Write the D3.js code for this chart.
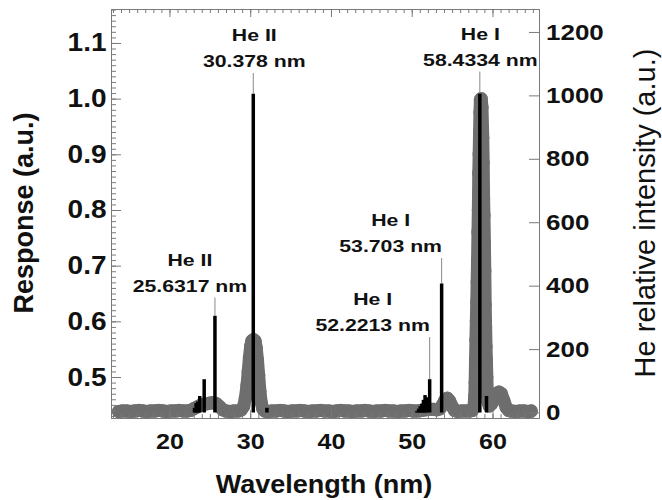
<!DOCTYPE html>
<html>
<head>
<meta charset="utf-8">
<script src="https://cdn.jsdelivr.net/npm/d3@7"></script>
<style>
    body { margin: 0; background: #fff; }
    svg { display: block; }
</style>
</head>
<body>
<script>

// measured response, left axis (a.u.)
const wavelengths = [
    13.7, 14.2, 14.7, 15.2, 15.7, 16.2, 16.7, 17.2, 17.7, 18.2, 18.7, 19.2, 19.7, 20.2, 20.7, 21.2, 21.7, 22.2,
    22.6, 23.0, 23.4, 23.8, 24.2, 24.6, 25.0, 25.4, 25.8, 26.2, 26.6, 27.0, 27.5, 28.0, 28.5,
    28.9, 29.2, 29.4, 29.6, 29.75, 29.9, 30.05, 30.2, 30.4, 30.6, 30.75, 30.9, 31.05, 31.2, 31.35, 31.55, 31.8,
    32.2, 32.7, 33.2, 33.7, 34.2, 34.7, 35.2, 35.7, 36.2, 36.7, 37.2, 37.7, 38.2, 38.7, 39.2, 39.7, 40.2, 40.7, 41.2,
    41.7, 42.2, 42.7, 43.2, 43.7, 44.2, 44.7, 45.2, 45.7, 46.2, 46.7, 47.2, 47.7, 48.2, 48.7, 49.2, 49.7, 50.2, 50.7,
    51.2, 51.7, 52.2, 52.7, 53.1, 53.5, 53.8, 54.1, 54.4, 54.7, 55.0, 55.3, 55.7, 56.2, 56.7, 57.2, 57.5,
    57.7, 57.8, 57.85, 57.9, 57.95, 58.0, 58.05, 58.1, 58.15, 58.2, 58.25, 58.3, 58.35, 58.4, 58.45, 58.5, 58.6,
    58.7, 58.8, 58.85, 58.9, 58.95, 59.0, 59.05, 59.1, 59.15, 59.2, 59.25, 59.3, 59.35, 59.45, 59.6,
    59.9, 60.2, 60.5, 60.8, 61.1, 61.4, 61.7, 62.0, 62.4, 62.9, 63.4, 63.9, 64.4, 64.8
];
const response = [
    0.438, 0.439, 0.439, 0.438, 0.439, 0.440, 0.439, 0.438, 0.439, 0.439, 0.440, 0.439, 0.438, 0.439, 0.439, 0.440, 0.439, 0.439,
    0.440, 0.443, 0.446, 0.449, 0.451, 0.452, 0.453, 0.454, 0.452, 0.447, 0.441, 0.439, 0.438, 0.439, 0.439,
    0.441, 0.448, 0.462, 0.485, 0.510, 0.535, 0.555, 0.565, 0.567, 0.565, 0.552, 0.530, 0.503, 0.475, 0.455, 0.443, 0.439,
    0.438, 0.439, 0.439, 0.440, 0.439, 0.438, 0.439, 0.439, 0.440, 0.439, 0.438, 0.439, 0.439, 0.440, 0.439, 0.439, 0.438, 0.439, 0.440,
    0.439, 0.439, 0.438, 0.439, 0.439, 0.440, 0.439, 0.438, 0.439, 0.439, 0.440, 0.439, 0.439, 0.438, 0.439, 0.439, 0.440, 0.439, 0.439,
    0.440, 0.441, 0.442, 0.442, 0.441, 0.443, 0.450, 0.458, 0.462, 0.457, 0.447, 0.440, 0.438, 0.439, 0.439, 0.439, 0.440,
    0.446, 0.465, 0.490, 0.530, 0.567, 0.600, 0.635, 0.670, 0.710, 0.760, 0.800, 0.866, 0.900, 0.940, 0.975, 0.998, 1.000,
    0.985, 0.930, 0.885, 0.820, 0.790, 0.740, 0.690, 0.630, 0.590, 0.555, 0.530, 0.500, 0.475, 0.455, 0.448,
    0.452, 0.462, 0.470, 0.473, 0.470, 0.458, 0.445, 0.440, 0.439, 0.438, 0.439, 0.439, 0.438, 0.439
];

// He emission lines, right axis (relative intensity)
const lineWavelengths = [23.1, 23.3, 23.5, 23.75, 24.3, 25.6317, 30.378, 32.07, 50.65, 50.85, 51.05, 51.25, 51.45, 51.65, 51.85, 52.2213, 53.703, 58.4334, 59.26];
const lineIntensity = [15, 30, 35, 52, 105, 305, 1005, 15, 5, 12, 20, 28, 40, 55, 48, 105, 407, 1005, 52];

// annotated lines
const labelWavelengths = [25.6317, 30.378, 52.2213, 53.703, 58.4334];
const labelIons = ['He II', 'He II', 'He I', 'He I', 'He I'];

const leftTicks = [0.5, 0.6, 0.7, 0.8, 0.9, 1.0, 1.1];
const rightTicks = [0, 200, 400, 600, 800, 1000, 1200];
const xTicks = [20, 30, 40, 50, 60];

// layout
const SCREEN = { width: 662, height: 500, left: 111, right: 539, top: 9, bottom: 418 };
const FONT = '"Liberation Sans", Arial, Helvetica, sans-serif';
const AXIS_GRAY = '#7a7a7a';
const CURVE_GRAY = '#6e6e6e';

// label placement in px: shift from the line, baseline of the "nm" row
const labelLayout = [
    { dx: -25, y: 291.5 },
    { dx: 1, y: 67 },
    { dx: -57, y: 331 },
    { dx: -51, y: 252 },
    { dx: 0.5, y: 65.5 }
];

const svg = d3.select('body').append('svg')
    .attr('width', SCREEN.width)
    .attr('height', SCREEN.height)
    .style('background', '#fff');

const x = d3.scaleLinear().domain([12.76, 65.76]).range([SCREEN.left, SCREEN.right]);
const yLeft = d3.scaleLinear().domain([0.4264, 1.161]).range([SCREEN.bottom, SCREEN.top]);
const yRight = d3.scaleLinear().domain([-17.3, 1272.4]).range([SCREEN.bottom, SCREEN.top]);

svg.append('clipPath').attr('id', 'plot-clip')
    .append('rect')
    .attr('x', SCREEN.left)
    .attr('y', SCREEN.top)
    .attr('width', SCREEN.right - SCREEN.left)
    .attr('height', SCREEN.bottom - SCREEN.top);

const plot = svg.append('g').attr('clip-path', 'url(#plot-clip)');

const points = wavelengths.map((w, i) => ({ w: w, r: response[i] }));

// response curve: thick band + open circle markers
plot.append('path')
    .datum(points)
    .attr('d', d3.line().x(d => x(d.w)).y(d => yLeft(d.r)))
    .attr('fill', 'none')
    .attr('stroke', CURVE_GRAY)
    .attr('stroke-width', 13)
    .attr('stroke-linejoin', 'round')
    .attr('stroke-linecap', 'round');

plot.append('g')
    .selectAll('circle')
    .data(points)
    .join('circle')
    .attr('cx', d => x(d.w))
    .attr('cy', d => yLeft(d.r))
    .attr('r', 5.3)
    .attr('fill', 'none')
    .attr('stroke', CURVE_GRAY)
    .attr('stroke-width', 2.7);

// leader lines from labels down to the line tops
labelWavelengths.forEach((w, i) => {
    const top = lineIntensity[lineWavelengths.indexOf(w)];
    plot.append('line')
        .attr('x1', x(w)).attr('x2', x(w))
        .attr('y1', labelLayout[i].y + 6)
        .attr('y2', yRight(top))
        .attr('stroke', '#8a8a8a')
        .attr('stroke-width', 1);
});

// emission lines
plot.append('g')
    .selectAll('line')
    .data(lineWavelengths)
    .join('line')
    .attr('x1', d => x(d))
    .attr('x2', d => x(d))
    .attr('y1', yRight(0))
    .attr('y2', (d, i) => yRight(lineIntensity[i]))
    .attr('stroke', '#000')
    .attr('stroke-width', 3.5);

// axes
function styleAxis(g, size, sx) {
    g.attr('font-family', FONT).attr('font-size', size).attr('font-weight', 'bold');
    g.select('.domain').attr('stroke', AXIS_GRAY);
    g.selectAll('.tick line').attr('stroke', AXIS_GRAY);
    g.selectAll('.tick text').attr('fill', '#111').attr('transform', `scale(${sx},1)`);
}

const intRange = d3.range(13, 66);
const leftMinor = d3.range(43, 117).map(d => d / 100);

svg.append('g')
    .attr('transform', `translate(0,${SCREEN.top})`)
    .call(d3.axisTop(x).tickValues(intRange).tickSize(-4).tickSizeOuter(0).tickFormat(''))
    .call(g => styleAxis(g, 10, 1));
svg.append('g')
    .attr('transform', `translate(0,${SCREEN.top})`)
    .call(d3.axisTop(x).tickValues(xTicks).tickSize(-8).tickSizeOuter(0).tickFormat(''))
    .call(g => styleAxis(g, 10, 1));

svg.append('g')
    .attr('transform', `translate(0,${SCREEN.bottom})`)
    .call(d3.axisBottom(x).tickValues(intRange).tickSize(-4).tickSizeOuter(0).tickFormat(''))
    .call(g => styleAxis(g, 10, 1));
svg.append('g')
    .attr('transform', `translate(0,${SCREEN.bottom})`)
    .call(d3.axisBottom(x).tickValues(xTicks).tickSize(-8).tickSizeOuter(0).tickPadding(15))
    .call(g => styleAxis(g, 22, 1.14));

svg.append('g')
    .attr('transform', `translate(${SCREEN.left},0)`)
    .call(d3.axisLeft(yLeft).tickValues(leftMinor).tickSize(-5).tickSizeOuter(0).tickFormat(''))
    .call(g => styleAxis(g, 10, 1));
svg.append('g')
    .attr('transform', `translate(${SCREEN.left},0)`)
    .call(d3.axisLeft(yLeft).tickValues(leftTicks).tickSize(-10).tickSizeOuter(0).tickPadding(4).tickFormat(d3.format('.1f')))
    .call(g => styleAxis(g, 25, 1.12));

svg.append('g')
    .attr('transform', `translate(${SCREEN.right},0)`)
    .call(d3.axisRight(yRight).tickValues(rightTicks).tickSize(-10).tickSizeOuter(0).tickPadding(6).tickFormat(d3.format('d')))
    .call(g => styleAxis(g, 22, 1.18));

// axis titles
svg.append('text')
    .attr('transform', `translate(${(SCREEN.left + SCREEN.right) / 2 - 1},493) scale(1.02,1)`)
    .attr('text-anchor', 'middle')
    .attr('font-family', FONT)
    .attr('font-weight', 'bold')
    .attr('font-size', 26.5)
    .attr('fill', '#111')
    .text('Wavelength (nm)');

svg.append('text')
    .attr('transform', 'translate(33,213) scale(1.05,1) rotate(-90)')
    .attr('text-anchor', 'middle')
    .attr('font-family', FONT)
    .attr('font-weight', 'bold')
    .attr('font-size', 27)
    .attr('fill', '#111')
    .text('Response (a.u.)');

svg.append('text')
    .attr('transform', 'translate(655,213) rotate(-90)')
    .attr('text-anchor', 'middle')
    .attr('font-family', FONT)
    .attr('font-size', 29)
    .attr('fill', '#111')
    .text('He relative intensity (a.u.)');

// line labels
const labels = svg.append('g')
    .attr('font-family', FONT)
    .attr('font-weight', 'bold')
    .attr('font-size', 17)
    .attr('fill', '#111')
    .attr('text-anchor', 'middle');

labelWavelengths.forEach((w, i) => {
    const cx = x(w) + labelLayout[i].dx;
    const y = labelLayout[i].y;
    labels.append('text')
        .attr('transform', `translate(${cx},${y - 26}) scale(1.25,1)`)
        .text(labelIons[i]);
    labels.append('text')
        .attr('transform', `translate(${cx},${y}) scale(1.25,1)`)
        .text(`${w} nm`);
});
</script>
</body>
</html>
